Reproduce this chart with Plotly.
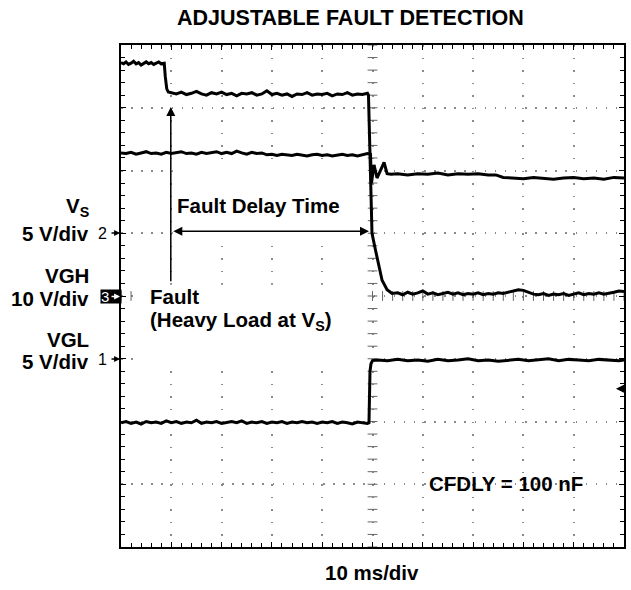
import plotly.graph_objects as go

# ---- data (x in time divisions, 10 ms/div; y in vertical divisions) ----
top_x = [0.00, 0.05, 0.10, 0.15, 0.20, 0.25, 0.30, 0.35, 0.40, 0.45, 0.50, 0.55, 0.60, 0.65, 0.70, 0.75, 0.80, 0.86,
         0.88, 0.91, 0.94,
         1.0, 1.1, 1.2, 1.3, 1.4, 1.5, 1.6, 1.7, 1.8, 1.9, 2.0, 2.1, 2.2, 2.3, 2.4, 2.5, 2.6, 2.7, 2.8, 2.9,
         3.0, 3.1, 3.2, 3.3, 3.4, 3.5, 3.6, 3.7, 3.8, 3.9, 4.0, 4.1, 4.2, 4.3, 4.4, 4.5, 4.6, 4.7, 4.8, 4.9,
         4.92, 4.95, 4.99, 5.06, 5.13, 5.19, 5.29, 5.39,
         5.5, 5.6, 5.7, 5.8, 5.9, 6.0, 6.1, 6.2, 6.3, 6.4, 6.5, 6.6, 6.7, 6.8, 6.9, 7.0, 7.1, 7.2, 7.3, 7.4,
         7.5, 7.6, 7.7, 7.8, 7.9, 8.0, 8.1, 8.2, 8.3, 8.4, 8.5, 8.6, 8.7, 8.8, 8.9, 9.0, 9.1, 9.2, 9.3, 9.4,
         9.5, 9.6, 9.7, 9.8, 9.9, 10.0]
top_y = [3.72, 3.70, 3.73, 3.69, 3.71, 3.74, 3.70, 3.72, 3.68, 3.71, 3.73, 3.70, 3.72, 3.69, 3.71, 3.73, 3.70, 3.71,
         3.50, 3.30, 3.25,
         3.24, 3.22, 3.25, 3.21, 3.23, 3.26, 3.22, 3.20, 3.24, 3.22, 3.25, 3.21, 3.23, 3.19, 3.23, 3.22, 3.24, 3.20, 3.22, 3.27,
         3.21, 3.23, 3.20, 3.22, 3.18, 3.22, 3.21, 3.24, 3.20, 3.22, 3.21, 3.23, 3.19, 3.22, 3.21, 3.24, 3.20, 3.22, 3.21, 3.23,
         3.20, 2.20, 1.00, 0.73, 0.47, 0.25, 0.10, 0.04,
         0.05, 0.02, 0.06, 0.03, 0.05, 0.08, 0.03, 0.05, 0.02, 0.04, 0.06, 0.03, 0.05, 0.02, 0.04, 0.03, 0.05, 0.02, 0.04, 0.03,
         0.05, 0.04, 0.06, 0.08, 0.10, 0.09, 0.06, 0.03, 0.02, 0.04, 0.01, 0.03, 0.02, 0.04, 0.01, 0.03, 0.05, 0.02, 0.04, 0.03,
         0.05, 0.03, 0.04, 0.06, 0.08, 0.07]

mid_x = [0.0, 0.1, 0.2, 0.3, 0.4, 0.5, 0.6, 0.7, 0.8, 0.9, 1.0, 1.1, 1.2, 1.3, 1.4, 1.5, 1.6, 1.7, 1.8, 1.9,
         2.0, 2.1, 2.2, 2.3, 2.4, 2.5, 2.6, 2.7, 2.8, 2.9, 3.0, 3.1, 3.2, 3.3, 3.4, 3.5, 3.6, 3.7, 3.8, 3.9,
         4.0, 4.1, 4.2, 4.3, 4.4, 4.5, 4.6, 4.7, 4.8, 4.9,
         4.96, 4.98, 5.03, 5.09, 5.23, 5.29, 5.37,
         5.5, 5.7, 5.9, 6.1, 6.3, 6.5, 6.7, 6.9, 7.1, 7.3, 7.45, 7.6, 7.8, 8.0, 8.2, 8.4, 8.6, 8.8, 9.0,
         9.2, 9.4, 9.6, 9.8, 10.0]
mid_y = [2.28, 2.27, 2.29, 2.26, 2.28, 2.30, 2.27, 2.28, 2.26, 2.29, 2.27, 2.28, 2.30, 2.27, 2.28, 2.26, 2.29, 2.27, 2.28, 2.30,
         2.27, 2.29, 2.27, 2.31, 2.28, 2.26, 2.29, 2.27, 2.28, 2.25, 2.26, 2.24, 2.26, 2.25, 2.24, 2.26, 2.25, 2.23, 2.25, 2.26,
         2.24, 2.25, 2.23, 2.25, 2.26, 2.24, 2.25, 2.23, 2.25, 2.27,
         2.26, 1.80, 2.09, 1.88, 2.13, 1.95, 1.94,
         1.95, 1.93, 1.95, 1.94, 1.96, 1.93, 1.95, 1.94, 1.95, 1.93, 1.93, 1.89, 1.88, 1.87, 1.89, 1.88, 1.86, 1.88, 1.89,
         1.87, 1.88, 1.86, 1.89, 1.88]

bot_x = [0.0, 0.1, 0.2, 0.3, 0.4, 0.5, 0.6, 0.7, 0.8, 0.9, 1.0, 1.1, 1.2, 1.3, 1.4, 1.5, 1.6, 1.7, 1.8, 1.9,
         2.0, 2.1, 2.2, 2.3, 2.4, 2.5, 2.6, 2.7, 2.8, 2.9, 3.0, 3.1, 3.2, 3.3, 3.4, 3.5, 3.6, 3.7, 3.8, 3.9,
         4.0, 4.1, 4.2, 4.3, 4.4, 4.5, 4.6, 4.7, 4.8, 4.9, 4.93,
         4.95, 4.97, 5.00,
         5.1, 5.3, 5.5, 5.7, 5.9, 6.1, 6.3, 6.5, 6.7, 6.9, 7.1, 7.3, 7.5, 7.7, 7.9, 8.1, 8.3, 8.5, 8.7, 8.9,
         9.1, 9.3, 9.5, 9.7, 9.9, 10.0]
bot_y = [-2.02, -2.00, -2.03, -2.01, -2.04, -2.00, -2.02, -2.01, -2.03, -1.99, -2.02, -2.00, -2.03, -2.01, -2.02, -1.98, -2.03, -2.01, -2.02, -2.00,
         -2.03, -2.01, -2.00, -2.02, -1.99, -2.03, -2.01, -2.02, -2.00, -2.03, -2.01, -2.02, -2.00, -2.03, -2.01, -2.02, -2.00, -2.02, -2.01, -2.03,
         -2.01, -2.02, -2.00, -2.03, -2.01, -2.02, -2.04, -2.01, -2.02, -2.03, -2.02,
         -1.20, -1.08, -1.03,
         -1.02, -1.03, -1.01, -1.03, -1.02, -1.04, -1.01, -1.03, -1.02, -1.00, -1.03, -1.02, -1.04, -1.02, -1.01, -1.03, -1.02, -1.00, -1.03, -1.01,
         -1.02, -1.03, -1.01, -1.02, -1.03, -1.02]

# ---- figure ----
FONT = "Liberation Sans, Arial, sans-serif"
W, H = 631, 590
L, R, T, B = 121, 5, 45, 43
PW, PH = W - L - R, H - T - B


def px(x):
    return (x - L) / PW


def py(y):
    return (H - B - y) / PH


fig = go.Figure()

# white label boxes (cover grid)
fig.add_shape(type="rect", x0=1.03, x1=4.90, y0=0.89, y1=2.12, layer="above",
              fillcolor="white", line_width=0)
fig.add_shape(type="rect", x0=0.30, x1=4.85, y0=-1.05, y1=0.18, layer="above",
              fillcolor="white", line_width=0)

# crosshair ticks at centre lines
tick_pos_x = [i * 0.2 for i in range(51)]
tick_pos_y = [-4 + i * 0.2 for i in range(41)]
fig.add_trace(go.Scatter(x=tick_pos_x, y=[0] * len(tick_pos_x), mode="markers",
                         marker=dict(symbol="line-ns", size=7, line=dict(width=1, color="#666")),
                         hoverinfo="skip", showlegend=False))
fig.add_trace(go.Scatter(x=[5] * len(tick_pos_y), y=tick_pos_y, mode="markers",
                         marker=dict(symbol="line-ew", size=7, line=dict(width=1, color="#666")),
                         hoverinfo="skip", showlegend=False))

for xs, ys, nm in [(top_x, top_y, "VGH"), (mid_x, mid_y, "VS"), (bot_x, bot_y, "VGL")]:
    fig.add_trace(go.Scatter(x=xs, y=ys, mode="lines", name=nm,
                             line=dict(color="black", width=3), showlegend=False))

axis_common = dict(showline=True, linecolor="black", linewidth=2, mirror="ticks",
                   ticks="inside", ticklen=5, tickcolor="black", tickwidth=1,
                   showticklabels=False, zeroline=False, showgrid=True,
                   gridcolor="#8a8a8a", gridwidth=1.5, dtick=1, tick0=0,
                   minor=dict(dtick=0.2, ticks="inside", ticklen=4, tickcolor="black", showgrid=False),
                   fixedrange=True)
fig.update_xaxes(range=[0, 10], griddash="1.5px,11.05px", **axis_common)
fig.update_yaxes(range=[-4, 4], griddash="1.5px,8.6px", **axis_common)

ann = []


def txt(x, y, s, size=20.5, xanchor="center", xref="paper", yref="paper", color="black", **kw):
    ann.append(dict(x=x, y=y, xref=xref, yref=yref, text=s, showarrow=False,
                    xanchor=xanchor, yanchor="middle",
                    font=dict(family=FONT, size=size, color=color), **kw))


def marker_arrow(y, color="black"):
    ann.append(dict(x=px(120), y=py(y), xref="paper", yref="paper", ax=-10, ay=0,
                    text="", showarrow=True, arrowhead=2, arrowsize=0.9, arrowwidth=1.3,
                    arrowcolor=color))


# title and axis caption
txt(px(351), py(17.5), "<b>ADJUSTABLE FAULT DETECTION</b>", size=21.5)
txt(px(373), py(572), "<b>10 ms/div</b>")

# left channel labels
txt(px(91), py(207), "<b>V<sub>S</sub></b>", xanchor="right")
txt(px(91), py(233), "<b>5 V/div</b>", xanchor="right")
txt(px(91), py(275), "<b>VGH</b>", xanchor="right")
txt(px(91), py(298), "<b>10 V/div</b>", xanchor="right")
txt(px(91), py(340), "<b>VGL</b>", xanchor="right")
txt(px(91), py(361), "<b>5 V/div</b>", xanchor="right")

# channel ground markers
txt(px(109), py(233), "2", size=16, xanchor="right")
marker_arrow(233)
txt(px(109), py(359), "1", size=16, xanchor="right")
marker_arrow(359)
ann.append(dict(x=px(100), y=py(296.5), xref="paper", yref="paper", text="3", showarrow=False,
                xanchor="left", yanchor="middle", width=20, height=13, align="left",
                bgcolor="black", borderpad=0,
                font=dict(family=FONT, size=15, color="white")))
marker_arrow(296.5, color="white")

# in-plot labels
txt(2.74, 1.45, "<b>Fault Delay Time</b>", xref="x", yref="y")
txt(0.53, 0.0, "<b>Fault</b>", xanchor="left", xref="x", yref="y")
txt(0.53, -0.40, "<b>(Heavy Load at V<sub>S</sub>)</b>", xanchor="left", xref="x", yref="y")
txt(7.65, -2.98, "<b>CFDLY = 100 nF</b>", xref="x", yref="y")

# arrows
ann.append(dict(x=0.99, y=3.01, ax=0.99, ay=0.21, xref="x", yref="y", axref="x", ayref="y",
                text="", showarrow=True, arrowhead=2, arrowsize=1.2, arrowwidth=1.5, arrowcolor="black"))
ann.append(dict(x=4.93, y=1.03, ax=1.01, ay=1.03, xref="x", yref="y", axref="x", ayref="y",
                text="", showarrow=True, arrowhead=2, startarrowhead=2, arrowside="end+start",
                arrowsize=1.2, arrowwidth=1.5, arrowcolor="black"))
ann.append(dict(x=9.84, y=-1.48, ax=10.0, ay=-1.48, xref="x", yref="y", axref="x", ayref="y",
                text="", showarrow=True, arrowhead=2, arrowsize=1.0, arrowwidth=2, arrowcolor="black"))

fig.update_layout(width=W, height=H, margin=dict(l=L, r=R, t=T, b=B),
                  paper_bgcolor="white", plot_bgcolor="white", annotations=ann,
                  font=dict(family=FONT, color="black"))

fig.write_html("out.html", config={"displayModeBar": False},
               post_script="document.body.style.margin='0px';")
